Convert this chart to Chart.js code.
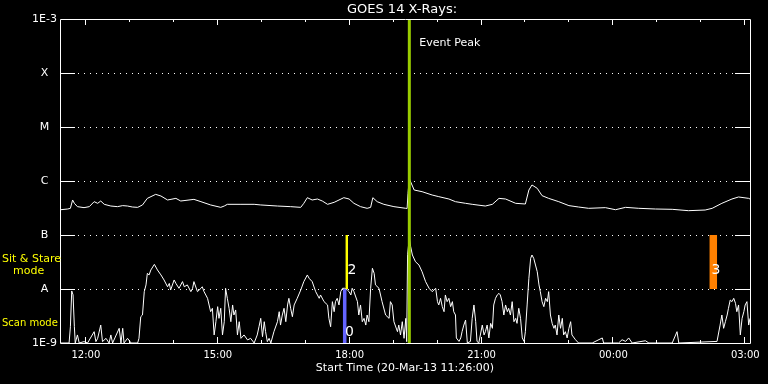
<!DOCTYPE html>
<html><head><meta charset="utf-8">
<script src="https://cdn.jsdelivr.net/npm/chart.js@4/dist/chart.umd.min.js"></script>
<style>html,body{margin:0;padding:0;background:#000;}canvas{display:block;}</style>
</head><body>
<canvas id="c" width="768" height="384"></canvas>
<script>
// ---- data (hours since 00:00 on 20-Mar-13; values >24 are next day) ----
const startHour = 11 + 26/60;
const endHour = 27.13;
const longTimes = [11.45,11.61,11.67,11.72,11.76,11.83,11.98,12.10,12.21,12.29,12.36,12.44,12.59,12.74,12.86,12.97,13.08,13.20,13.31,13.42,13.61,13.73,13.88,14.07,14.18,14.30,14.48,14.64,14.86,15.09,15.17,15.24,15.55,15.85,16.00,16.38,16.68,16.91,16.98,17.06,17.17,17.29,17.40,17.52,17.67,17.89,18.01,18.12,18.27,18.42,18.50,18.55,18.65,18.80,19.03,19.30,19.33,19.35,19.38,19.49,19.67,19.90,20.05,20.28,20.43,20.66,20.81,21.11,21.27,21.42,21.57,21.80,22.02,22.10,22.17,22.29,22.40,22.55,22.78,23.01,23.23,23.46,23.84,24.07,24.30,24.60,24.98,25.36,25.73,26.11,26.27,26.49,26.72,26.87,27.10,27.13];
const longFlux = [2.94e-7,3.03e-7,3.12e-7,4.45e-7,3.86e-7,3.35e-7,3.21e-7,3.35e-7,4.14e-7,3.86e-7,4.26e-7,3.70e-7,3.44e-7,3.35e-7,3.50e-7,3.44e-7,3.30e-7,3.25e-7,3.60e-7,4.77e-7,5.66e-7,5.27e-7,4.45e-7,4.77e-7,4.26e-7,4.38e-7,4.57e-7,4.14e-7,3.60e-7,3.25e-7,3.44e-7,3.70e-7,3.70e-7,3.70e-7,3.60e-7,3.44e-7,3.35e-7,3.25e-7,3.86e-7,4.91e-7,4.45e-7,4.64e-7,4.26e-7,3.70e-7,4.03e-7,4.91e-7,4.64e-7,3.86e-7,3.35e-7,3.12e-7,3.25e-7,4.91e-7,4.14e-7,3.70e-7,3.35e-7,3.12e-7,3.10e-7,5.9e-7,1.1e-6,6.81e-7,6.34e-7,5.50e-7,5.13e-7,4.64e-7,4.14e-7,3.86e-7,3.70e-7,3.44e-7,3.70e-7,4.77e-7,4.64e-7,3.86e-7,3.75e-7,6.81e-7,8.44e-7,7.31e-7,5.35e-7,4.77e-7,4.14e-7,3.50e-7,3.30e-7,3.12e-7,3.21e-7,2.94e-7,3.25e-7,3.12e-7,3.03e-7,2.99e-7,2.82e-7,2.90e-7,3.12e-7,3.86e-7,4.64e-7,5.06e-7,4.77e-7,4.64e-7];
const shortTimes = [11.45,11.64,11.67,11.70,11.73,11.76,11.78,11.83,11.87,11.98,12.06,12.21,12.25,12.29,12.36,12.40,12.48,12.55,12.59,12.63,12.78,12.82,12.86,12.89,12.97,13.05,13.20,13.23,13.27,13.31,13.35,13.39,13.42,13.46,13.50,13.58,13.65,13.73,13.80,13.88,13.92,13.95,14.03,14.07,14.14,14.22,14.26,14.33,14.41,14.45,14.48,14.56,14.64,14.67,14.71,14.79,14.86,14.90,14.94,14.98,15.02,15.05,15.09,15.13,15.17,15.20,15.24,15.28,15.32,15.36,15.39,15.43,15.47,15.51,15.55,15.62,15.70,15.77,15.85,15.92,15.96,16.00,16.04,16.08,16.11,16.15,16.19,16.23,16.30,16.38,16.42,16.45,16.49,16.53,16.57,16.61,16.64,16.68,16.72,16.76,16.83,16.91,16.98,17.06,17.10,17.17,17.25,17.33,17.36,17.44,17.52,17.55,17.59,17.63,17.67,17.70,17.74,17.78,17.82,17.86,17.91,17.97,18.01,18.05,18.08,18.12,18.20,18.23,18.27,18.31,18.35,18.39,18.42,18.46,18.50,18.54,18.58,18.61,18.69,18.76,18.84,18.92,18.95,18.99,19.03,19.11,19.14,19.18,19.22,19.26,19.30,19.32,19.34,19.38,19.41,19.45,19.52,19.60,19.67,19.75,19.83,19.90,19.98,20.02,20.05,20.09,20.13,20.17,20.20,20.24,20.28,20.32,20.36,20.39,20.43,20.45,20.51,20.55,20.58,20.62,20.66,20.70,20.77,20.81,20.85,20.89,20.92,20.96,21.04,21.08,21.11,21.15,21.19,21.23,21.27,21.30,21.34,21.38,21.42,21.45,21.49,21.53,21.57,21.61,21.64,21.68,21.72,21.76,21.80,21.83,21.87,21.91,21.95,21.99,22.02,22.06,22.10,22.14,22.17,22.21,22.25,22.29,22.33,22.36,22.40,22.44,22.48,22.52,22.55,22.59,22.63,22.67,22.70,22.74,22.78,22.82,22.86,22.89,22.93,22.97,23.01,23.05,23.08,23.16,23.23,23.54,23.77,23.80,24.14,24.22,24.30,24.37,24.45,24.75,24.83,25.36,25.47,25.51,26.38,26.45,26.49,26.53,26.57,26.61,26.64,26.68,26.72,26.76,26.80,26.83,26.87,26.91,26.95,26.99,27.02,27.06,27.10,27.13];
const shortFlux = [1e-9,1e-9,2.0e-9,9.2e-9,7.8e-9,2.0e-9,1e-9,1.41e-9,1e-9,1.06e-9,1e-9,1.62e-9,1.06e-9,1.22e-9,2.15e-9,1.06e-9,1.22e-9,1e-9,1.41e-9,1e-9,1.87e-9,1e-9,1.87e-9,1e-9,1.22e-9,1e-9,1e-9,1.22e-9,3.07e-9,3.30e-9,8.93e-9,1.19e-8,1.95e-8,1.82e-8,2.25e-8,2.86e-8,2.25e-8,1.82e-8,1.47e-8,1.10e-8,1.27e-8,9.57e-9,1.47e-8,1.27e-8,1.03e-8,1.37e-8,1.10e-8,1.19e-8,8.93e-9,1.03e-8,1.37e-8,8.93e-9,1.03e-8,1.10e-8,8.93e-9,6.72e-9,3.80e-9,4.39e-9,1.41e-9,2.48e-9,4.71e-9,2.86e-9,4.39e-9,1.41e-9,2.48e-9,1.03e-8,6.72e-9,4.39e-9,2.48e-9,5.06e-9,3.30e-9,4.09e-9,1.41e-9,2.48e-9,1.22e-9,1.41e-9,1.14e-9,1.22e-9,1e-9,1.41e-9,2.00e-9,2.86e-9,1.31e-9,2.48e-9,1.62e-9,1.06e-9,1.22e-9,1e-9,1.62e-9,2.48e-9,3.80e-9,2.15e-9,3.30e-9,4.39e-9,2.48e-9,5.06e-9,6.72e-9,4.39e-9,3.07e-9,5.06e-9,6.72e-9,9.57e-9,1.37e-8,1.82e-8,1.58e-8,1.37e-8,8.93e-9,6.72e-9,7.75e-9,5.83e-9,5.06e-9,2.86e-9,2.00e-9,5.83e-9,3.80e-9,5.83e-9,6.72e-9,5.06e-9,8.93e-9,1.03e-8,1.03e-8,9.57e-9,8.93e-9,7.75e-9,1.03e-8,8.93e-9,5.83e-9,3.30e-9,5.06e-9,2.48e-9,2.86e-9,2.15e-9,3.30e-9,2.48e-9,1.03e-8,2.42e-8,1.95e-8,1.19e-8,1.03e-8,5.83e-9,3.30e-9,2.86e-9,5.83e-9,5.06e-9,2.48e-9,1.62e-9,2.15e-9,1.41e-9,2.48e-9,1.22e-9,2.86e-9,1.06e-9,4.3e-8,9.0e-8,6.08e-8,4.26e-8,3.20e-8,2.78e-8,2.09e-8,1.37e-8,1.03e-8,8.93e-9,1.03e-8,5.83e-9,5.06e-9,6.72e-9,4.71e-9,3.80e-9,7.75e-9,5.83e-9,6.72e-9,4.71e-9,5.83e-9,3.80e-9,3.30e-9,1.24e-9,1.07e-9,1.24e-9,1.62e-9,2.15e-9,2.66e-9,1e-9,1.07e-9,2.86e-9,5.06e-9,2.48e-9,1.07e-9,1e-9,2.15e-9,1.41e-9,1.62e-9,2.15e-9,1.24e-9,2.31e-9,1.87e-9,5.06e-9,6.72e-9,7.75e-9,8.31e-9,7.75e-9,5.83e-9,3.30e-9,5.06e-9,3.80e-9,4.39e-9,3.30e-9,5.83e-9,2.48e-9,2.86e-9,2.31e-9,4.39e-9,2.86e-9,1.24e-9,1.07e-9,1.62e-9,5.06e-9,1.58e-8,3.70e-8,4.26e-8,3.70e-8,2.78e-8,2.09e-8,1.19e-8,8.93e-9,5.83e-9,4.71e-9,6.72e-9,5.83e-9,8.93e-9,3.30e-9,2.31e-9,1.87e-9,2.15e-9,1.41e-9,3.30e-9,1.87e-9,2.86e-9,1.41e-9,1.62e-9,1.24e-9,1.87e-9,2.48e-9,1.41e-9,1.15e-9,1e-9,1e-9,1.24e-9,1e-9,1e-9,1.15e-9,1.07e-9,1.24e-9,1e-9,1.10e-9,1e-9,1e-9,1.62e-9,1e-9,1.07e-9,2.15e-9,3.30e-9,1.87e-9,2.48e-9,3.30e-9,4.39e-9,6.25e-9,5.83e-9,6.72e-9,5.43e-9,3.80e-9,5.06e-9,1.41e-9,2.86e-9,3.80e-9,5.06e-9,5.83e-9,2.15e-9,2.86e-9];

const fluxTicks = [1e-9,1e-8,1e-7,1e-6,1e-5,1e-4,1e-3];
const fluxTickLabels = ['1E-9','A','B','C','M','X','1E-3'];
const majorHours = [12,15,18,21,24,27];
const majorHourLabels = ['12:00','15:00','18:00','21:00','00:00','03:00'];
const minorHours = [12,13,14,15,16,17,18,19,20,21,22,23,24,25,26,27];

const eventPeakHour = 19.38;
const eventPeakLabel = 'Event Peak';

const markerStart = [17.87, 17.93, 26.21];
const markerEnd   = [17.95, 17.985, 26.38];
const markerLow   = [1e-9, 1e-8, 1e-8];
const markerHigh  = [1e-8, 1e-7, 1e-7];
const markerLabels = ['0','2','3'];
const markerLabelFlux = [1.6e-9, 2.2e-8, 2.2e-8];
const markerColors = ['#6464ff','#ffff00','#ff8000'];

const titleText = 'GOES 14 X-Rays:';
const xTitle = 'Start Time (20-Mar-13 11:26:00)';
const modeLabels = ['Sit & Stare', 'mode', 'Scan mode'];
const modeLabelFlux = [3.6e-8, 2.15e-8, 2.3e-9];

const toPts = (t, v) => t.map((x,i)=>({x:x, y:v[i]}));

const deco = {
  id:'deco',
  beforeDraw(chart){
    const ctx = chart.ctx;
    ctx.save(); ctx.fillStyle='#000'; ctx.fillRect(0,0,chart.width,chart.height); ctx.restore();
  },
  beforeDatasetsDraw(chart){
    const ctx = chart.ctx, a = chart.chartArea, xs = chart.scales.x, ys = chart.scales.y;
    ctx.save();
    ctx.strokeStyle='#fff'; ctx.lineWidth=1;
    fluxTicks.forEach(v=>{
      const y = Math.round(ys.getPixelForValue(v))+0.5;
      if (v===fluxTicks[0] || v===fluxTicks[fluxTicks.length-1]) return;
      ctx.setLineDash([1,5]);
      ctx.beginPath(); ctx.moveTo(a.left+18, y); ctx.lineTo(a.right-15, y); ctx.stroke();
      ctx.setLineDash([]);
      ctx.beginPath(); ctx.moveTo(a.left, y); ctx.lineTo(a.left+15, y);
      ctx.moveTo(a.right-15, y); ctx.lineTo(a.right, y); ctx.stroke();
    });
    ctx.beginPath();
    ctx.rect(Math.round(a.left)+0.5, Math.round(a.top)+0.5, Math.round(a.right-a.left), Math.round(a.bottom-a.top));
    ctx.stroke();
    ctx.beginPath();
    minorHours.forEach(h=>{
      const x = Math.round(xs.getPixelForValue(h))+0.5;
      const len = majorHours.includes(h) ? 6 : 3;
      ctx.moveTo(x, a.top); ctx.lineTo(x, a.top+len);
      ctx.moveTo(x, a.bottom); ctx.lineTo(x, a.bottom-len);
    });
    ctx.stroke();
    ctx.fillStyle='#fff';
    ctx.textAlign='center'; ctx.textBaseline='middle';
    ctx.font='11px "DejaVu Sans"';
    fluxTicks.forEach((v,i)=>{
      ctx.fillText(fluxTickLabels[i], 44.5, ys.getPixelForValue(v));
    });
    ctx.font='10px "DejaVu Sans"';
    majorHours.forEach((h,i)=>{
      ctx.fillText(majorHourLabels[i], xs.getPixelForValue(h)+1, 355);
    });
    ctx.font='11px "DejaVu Sans"';
    ctx.fillText(xTitle, 405, 368);
    ctx.font='13px "DejaVu Sans"';
    ctx.fillText(titleText, 402, 10);
    ctx.fillStyle='#ffff00';
    ctx.textAlign='left';
    ctx.font='11px "DejaVu Sans"';
    ctx.fillText(modeLabels[0], 2, ys.getPixelForValue(modeLabelFlux[0]));
    ctx.fillText(modeLabels[1], 13, ys.getPixelForValue(modeLabelFlux[1]));
    ctx.font='10px "DejaVu Sans"';
    ctx.fillText(modeLabels[2], 2, ys.getPixelForValue(modeLabelFlux[2]));
    ctx.restore();
  },
  afterDatasetsDraw(chart){
    const ctx = chart.ctx, a = chart.chartArea, xs = chart.scales.x, ys = chart.scales.y;
    ctx.save();
    markerStart.forEach((s,i)=>{
      const x0 = xs.getPixelForValue(s), x1 = xs.getPixelForValue(markerEnd[i]);
      const y0 = ys.getPixelForValue(markerHigh[i]), y1 = ys.getPixelForValue(markerLow[i]);
      ctx.fillStyle = markerColors[i];
      ctx.fillRect(x0, y0, x1-x0, y1-y0);
      ctx.fillStyle='#fff'; ctx.font='14px "DejaVu Sans"';
      ctx.textAlign='left'; ctx.textBaseline='middle';
      ctx.fillText(markerLabels[i], x0+2, ys.getPixelForValue(markerLabelFlux[i]));
    });
    const px = xs.getPixelForValue(eventPeakHour);
    ctx.strokeStyle='#99cc00'; ctx.lineWidth=3;
    ctx.beginPath(); ctx.moveTo(px, a.top+1); ctx.lineTo(px, a.bottom); ctx.stroke();
    ctx.fillStyle='#fff'; ctx.font='11px "DejaVu Sans"';
    ctx.textAlign='left'; ctx.textBaseline='middle';
    ctx.fillText(eventPeakLabel, px+10, 43);
    ctx.restore();
  }
};

new Chart(document.getElementById('c'), {
  type:'line',
  data:{datasets:[
    {data:toPts(longTimes,longFlux), borderColor:'#fff', borderWidth:1, pointRadius:0, tension:0},
    {data:toPts(shortTimes,shortFlux), borderColor:'#fff', borderWidth:1, pointRadius:0, tension:0}
  ]},
  options:{
    responsive:false, animation:false, devicePixelRatio:1,
    layout:{padding:{left:60,right:18,top:19,bottom:41}},
    plugins:{legend:{display:false}, tooltip:{enabled:false}},
    scales:{
      x:{type:'linear', min:startHour, max:endHour, display:false},
      y:{type:'logarithmic', min:1e-9, max:1e-3, display:false}
    }
  },
  plugins:[deco]
});
</script>
</body></html>
